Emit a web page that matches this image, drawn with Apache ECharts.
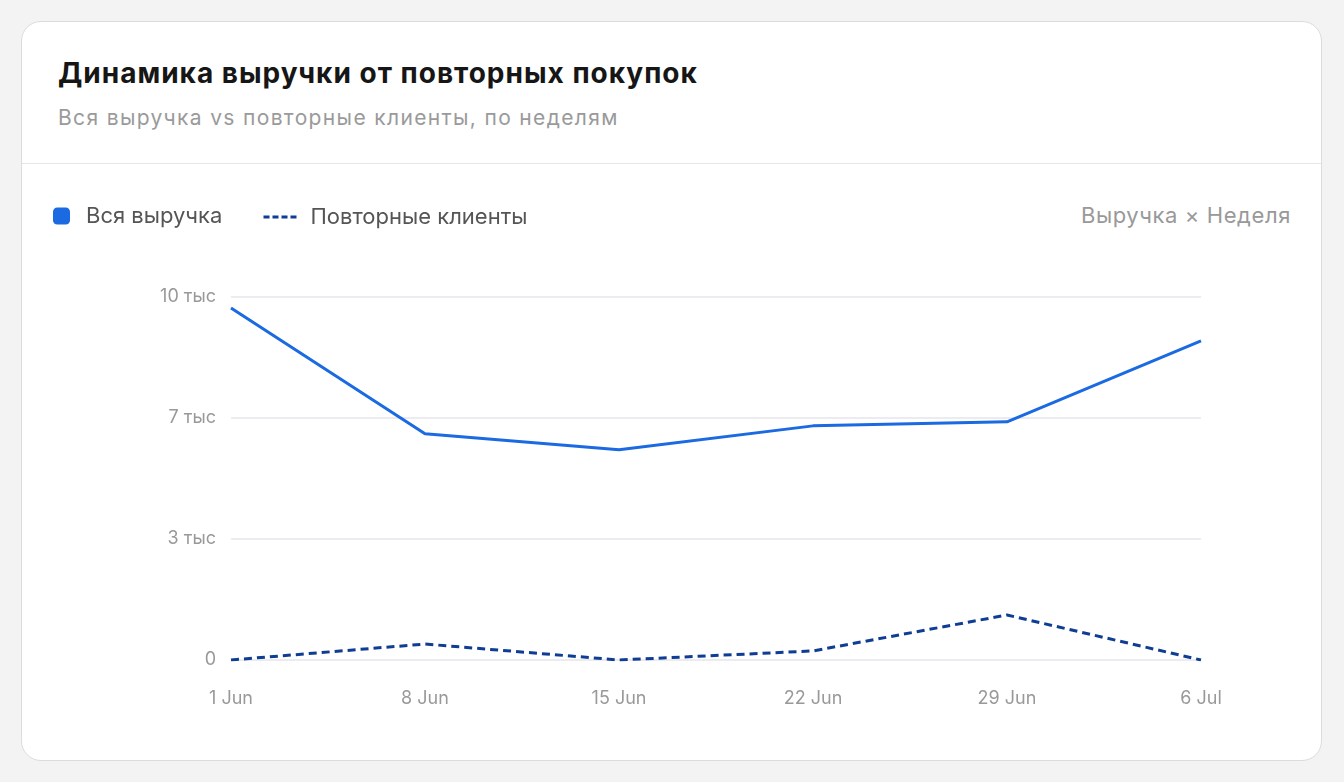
<!DOCTYPE html>
<html>
<head>
<meta charset="utf-8">
<script src="https://cdn.jsdelivr.net/npm/echarts@6/dist/echarts.min.js"></script>
<style>
  html, body { margin: 0; padding: 0; background: #f3f3f3; font-family: Inter, "Noto Sans", sans-serif; }
  .card {
    position: absolute; left: 21px; top: 21px; width: 1299px; height: 738px;
    background: #fff; border: 1px solid #dcdcdc; border-radius: 20px; overflow: hidden;
  }
  .title { position: absolute; left: 36px; top: 34px; font-size: 28px; font-weight: 700; color: #161616; letter-spacing: 1px; white-space: nowrap; }
  .sub { position: absolute; left: 36px; top: 83px; font-size: 21px; color: #9a9a9a; letter-spacing: 1.35px; white-space: nowrap; }
  .sep { position: absolute; left: 0; right: 0; top: 141px; height: 1px; background: #e6e6e6; }
  .tag { position: absolute; right: 30px; top: 180px; font-size: 22px; color: #999; letter-spacing: 0.6px; white-space: nowrap; }
  #chart { position: absolute; left: 0; top: 142px; width: 1299px; height: 596px; }
</style>
</head>
<body>
<div class="card">
  <div class="title">Динамика выручки от повторных покупок</div>
  <div class="sub">Вся выручка vs повторные клиенты, по неделям</div>
  <div class="sep"></div>
  <div class="tag">Выручка × Неделя</div>
  <div id="chart"></div>
</div>
<script>
// недели
var weeks = ['1 Jun', '8 Jun', '15 Jun', '22 Jun', '29 Jun', '6 Jul'];
// вся выручка
var totalRevenue = [9700, 6230, 5790, 6450, 6560, 8790];
// повторные клиенты
var repeatRevenue = [0, 440, 0, 250, 1240, 0];
var yMax = 10000;

var myChart = echarts.init(document.getElementById('chart'));
myChart.setOption({
    animation: false,
    textStyle: { fontFamily: 'Inter, "Noto Sans", sans-serif' },
    legend: [{
        left: 26, top: 36,
        data: ['Вся выручка'],
        icon: 'roundRect',
        itemWidth: 17, itemHeight: 17,
        textStyle: { fontSize: 22, color: '#555', padding: [0, 0, 0, 11] }
    }, {
        left: 235, top: 37,
        data: ['Повторные клиенты'],
        itemWidth: 36, itemHeight: 14,
        itemStyle: { color: 'rgba(0,0,0,0)', borderWidth: 0 },
        lineStyle: { type: [6, 3], width: 3 },
        textStyle: { fontSize: 22, color: '#555', padding: [0, 0, 0, 6] }
    }],
    grid: {
        left: 209, right: 120, top: 133, bottom: 100
    },
    xAxis: {
        type: 'category',
        boundaryGap: false,
        data: weeks,
        axisLine: { show: false },
        axisTick: { show: false },
        axisLabel: { color: '#999', fontSize: 18, margin: 30 }
    },
    yAxis: {
        type: 'value',
        min: 0,
        max: yMax,
        interval: yMax / 3,
        axisLine: { show: false },
        axisTick: { show: false },
        splitLine: { lineStyle: { color: '#ececf0', width: 2 } },
        axisLabel: {
            color: '#999', fontSize: 18, margin: 15,
            formatter: function(v) {
                if (v === 0) return '0';
                return Math.round(v / 1000) + ' тыс';
            }
        }
    },
    series: [{
        name: 'Вся выручка',
        type: 'line',
        data: totalRevenue,
        symbol: 'none',
        itemStyle: { color: '#1b6ae2' },
        lineStyle: { color: '#1b6ae2', width: 3 }
    }, {
        name: 'Повторные клиенты',
        type: 'line',
        data: repeatRevenue,
        symbol: 'none',
        itemStyle: { color: '#0e3d93' },
        lineStyle: { color: '#0e3d93', width: 3, type: [8, 5] }
    }]
});
</script>
</body>
</html>
